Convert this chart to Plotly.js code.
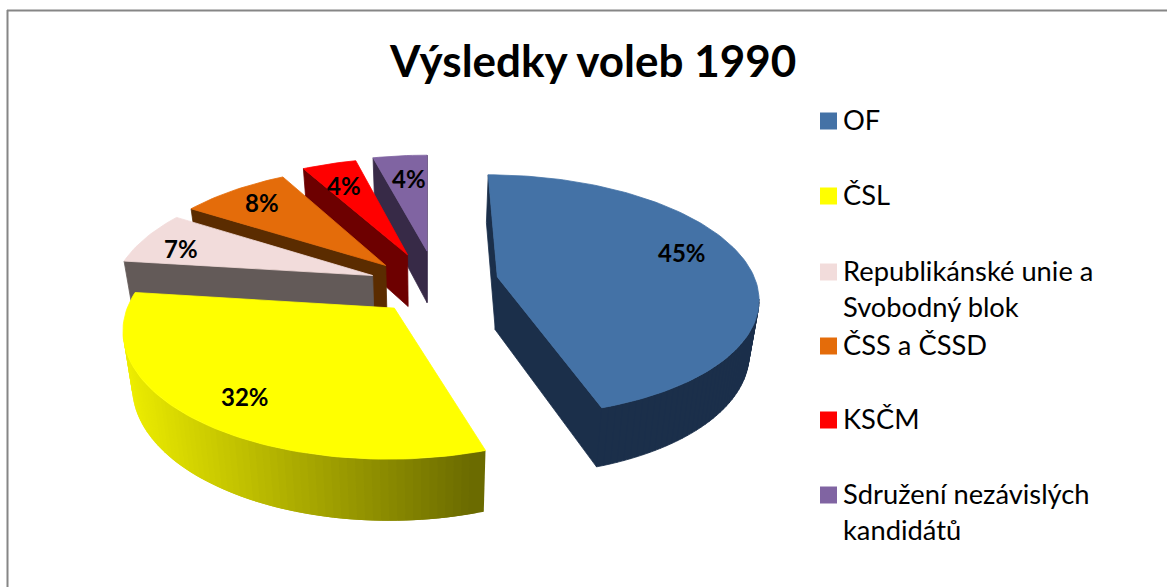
<!DOCTYPE html>
<html><head><meta charset="utf-8">
<script src="https://cdn.plot.ly/plotly-3.0.1.min.js"></script>
<style>html,body{margin:0;padding:0;background:#fff}#c{width:1167px;height:587px}</style>
</head><body><div id="c"></div>
<script>
const categories = ["OF","ČSL","Republikánské unie a\nSvobodný blok","ČSS a ČSSD","KSČM","Sdružení nezávislých\nkandidátů"];
const values = [45,32,7,8,4,4];
const topColors = ["#4472a6","#ffff00","#f2dcdb","#e46c0a","#ff0000","#8064a2"];
const wallColors = ["#1b2f4a",null,"#635a58","#5b2c00","#6d0000","#372a47"];
const explodeU = [0.270,-0.126,-0.216,-0.167,-0.082,-0.004];
const explodeV = [-0.042,0.212,-0.055,-0.142,-0.236,-0.27];
const labelX = [682,245,181,262,344,409];
const labelY = [252,396,248,202,185,178];
const legendY = [119,194,270,344,418,493];
const title = "Výsledky voleb 1990";

// perspective of the pie plane
const cx=428, S=258.5, k=0.1524, D=782, Yv=-500;
const wOf=v=>1-k*v;
const topP=(u,v)=>[cx+S*u/wOf(v), Yv+D/wOf(v)];
const botP=(u,v)=>{const w=wOf(v);return [cx+0.97*S*u/w, Yv+D/w+15+38/w];};
const rad=d=>d*Math.PI/180;
const total=values.reduce((a,b)=>a+b,0);
let acc=0;
const slices=values.map((val,i)=>{const a0=acc/total*360;acc+=val;const a1=acc/total*360;
  return {i,a0,a1,ou:explodeU[i],ov:explodeV[i]};});
const pt=(s,a)=>[s.ou+Math.sin(rad(a)),s.ov-Math.cos(rad(a))];
const Vv=1/k;
function arcAngles(s,step){const r=[];for(let a=s.a0;a<s.a1;a+=step)r.push(a);r.push(s.a1);return r;}
function poly(col,xs,ys,lw){return {type:"scatter",mode:"lines",x:xs,y:ys,fill:"toself",fillcolor:col,
  line:{color:col,width:lw===undefined?0.8:lw},hoverinfo:"skip",showlegend:false};}
function quad(a,b){ // wall quad between plane points a,b
  const p=[topP(...a),topP(...b),botP(...b),botP(...a)];
  return [p.map(q=>q[0]),p.map(q=>q[1])];
}
const frontFacing=(a,b,nu,nv)=>{const mu=(a[0]+b[0])/2,mv=(a[1]+b[1])/2;return nu*(0-mu)+nv*(Vv-mv)>0;};
const traces=[];
function lerpCol(t){const v=Math.round(238+(107-238)*t);return `rgb(${v},${v},0)`;}
[5,4,3,2,1,0].forEach(idx=>{
  const s=slices[idx];
  const apex=[s.ou,s.ov];
  const X=[],Y=[];
  const add=q=>{X.push(...q[0],q[0][0],null);Y.push(...q[1],q[1][0],null);};
  // radial cut faces
  [[s.a0,1],[s.a1,-1]].forEach(([a,sgn])=>{
    const e=pt(s,a);const nu=-Math.cos(rad(a))*sgn,nv=-Math.sin(rad(a))*sgn;
    if(frontFacing(apex,e,nu,nv)&&wallColors[idx]) add(quad(apex,e));
  });
  // outer wall
  const ang=arcAngles(s,1.5);
  for(let j=ang.length-2;j>=0;j--){
    const m=(ang[j]+ang[j+1])/2;const a=pt(s,ang[j]),b=pt(s,ang[j+1]);
    if(!frontFacing(a,b,Math.sin(rad(m)),-Math.cos(rad(m))))continue;
    if(wallColors[idx]) add(quad(a,b));
    else{ // gradient wall: each strip overlaps the previous one, so no seams appear
      const far=pt(s,Math.min(ang[j+1]+1.5,s.a1));
      const q=quad(a,far);const t=Math.max(0,Math.min(1,(topP(...a)[0]-125)/(483-125)));
      traces.push(poly(lerpCol(t),q[0],q[1],0));}
  }
  if(wallColors[idx]) traces.push(poly(wallColors[idx],X,Y));
  // top surface
  const tp=[topP(...apex)];ang.forEach(a=>tp.push(topP(...pt(s,a))));tp.push(tp[0]);
  traces.push(poly(topColors[idx],tp.map(p=>p[0]),tp.map(p=>p[1])));
});
// legend swatches
traces.push({type:"scatter",mode:"markers",x:categories.map(()=>828.5),y:legendY.map(y=>y+2),
  marker:{symbol:"square",size:17,color:topColors,line:{width:0}},hoverinfo:"skip",showlegend:false});

const font="Lato, 'Open Sans', sans-serif";
const annotations=[];
values.forEach((v,i)=>annotations.push({x:labelX[i],y:labelY[i],xref:"x",yref:"y",text:"<b>"+v+"%</b>",showarrow:false,
  xanchor:"center",yanchor:"middle",font:{family:font,size:24,color:"#000"}}));
categories.forEach((c,i)=>c.split("\n").forEach((line,l)=>annotations.push({x:844,y:legendY[i]+l*36,xref:"x",yref:"y",text:line,showarrow:false,
  xanchor:"left",yanchor:"middle",xshift:-3,font:{family:font,size:27.3,color:"#000"}})));
annotations.push({x:592,y:60,xref:"x",yref:"y",text:"<b>"+title+"</b>",showarrow:false,xanchor:"center",yanchor:"middle",
  font:{family:font,size:44,color:"#000"}});

const layout={width:1167,height:587,margin:{l:0,r:0,t:0,b:0},paper_bgcolor:"#fff",plot_bgcolor:"#fff",showlegend:false,
  xaxis:{range:[0,1167],visible:false,fixedrange:true},yaxis:{range:[587,0],visible:false,fixedrange:true},
  annotations,
  shapes:[
   {type:"line",xref:"x",yref:"y",x0:7,x1:1167,y0:10.5,y1:10.5,line:{color:"#868686",width:2}},
   {type:"line",xref:"x",yref:"y",x0:7.5,x1:7.5,y0:10,y1:587,line:{color:"#868686",width:2}}
  ]};
Plotly.newPlot("c",traces,layout,{displayModeBar:false,staticPlot:true});
</script></body></html>
